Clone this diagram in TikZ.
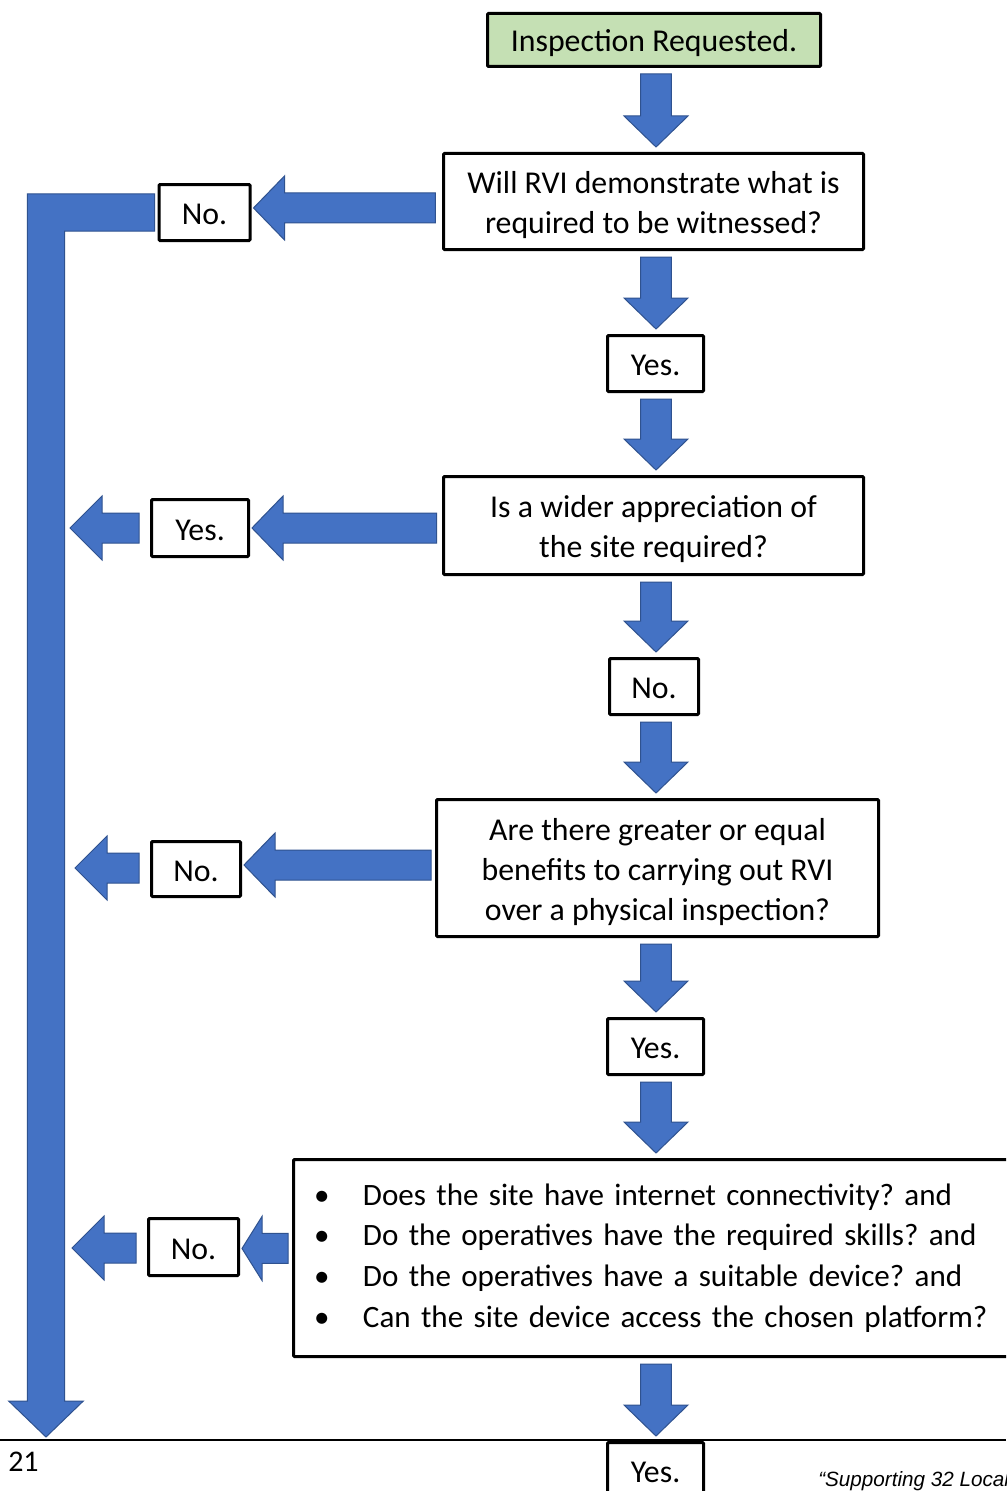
\documentclass[tikz,border=0pt]{standalone}
\usepackage{fontspec}
\setmainfont{Carlito}
\newfontfamily\footfont{Liberation Sans}
\usetikzlibrary{calc}
\definecolor{arrblue}{HTML}{4472C4}
\definecolor{arredge}{HTML}{2F528F}
\definecolor{startgreen}{HTML}{C5E0B4}
\frenchspacing
% box text: centred lines, ink lowered a little without changing the box size
\newcommand\bt[1]{\raisebox{-3pt}[\height][\depth]{\begin{tabular}{@{}c@{}}#1\end{tabular}}}
% down block arrow between two nodes (column x fixed)
\newcommand\darr[2]{%
\filldraw[arr] let \p1=(#1),\p2=(#2) in
 (492pt-11.6pt,\y1-4.5pt) -- (492pt+11.6pt,\y1-4.5pt) -- (492pt+11.6pt,\y2+27pt)
 -- (492pt+24pt,\y2+27pt) -- (492pt,\y2+3.75pt) -- (492pt-24pt,\y2+27pt)
 -- (492pt-11.6pt,\y2+27pt) -- cycle;}
% left block arrow: #1 source anchor, #2 target anchor, #3 source gap, #4 head length, #5 y offset
\newcommand\larr[5]{%
\filldraw[arr] let \p1=(#1),\p2=(#2),\n1={\y2+#5} in
 (\x1-#3,\n1+11.25pt) -- (\x2+1.5pt+#4,\n1+11.25pt) -- (\x2+1.5pt+#4,\n1+24pt)
 -- (\x2+1.5pt,\n1) -- (\x2+1.5pt+#4,\n1-24pt) -- (\x2+1.5pt+#4,\n1-11.25pt)
 -- (\x1-#3,\n1-11.25pt) -- cycle;}
\begin{document}
\begin{tikzpicture}[x=0.75pt,y=-0.75pt,
  arr/.style={fill=arrblue,draw=arredge,line width=0.75pt},
  box/.style={draw=black,line width=2.25pt,fill=white,rounded corners=0.75pt,
    inner sep=0pt,align=center,font=\fontsize{23.85pt}{30pt}\selectfont},
  ]
\clip (0,0) rectangle (1006,1491);
\useasboundingbox (0,0) rectangle (1006,1491);
\fill[white] (0,0) rectangle (1006,1491);

% main column
\node[box,fill=startgreen,minimum width=249.75pt,minimum height=39.75pt] (start) at (654,40) {\bt{Inspection Requested.}};
\node[box,minimum width=315pt,minimum height=72pt] (q1) at (653.5,201.5) {\bt{Will RVI demonstrate what is\\required to be witnessed?}};
\node[box,minimum width=72pt,minimum height=42pt] (yes1) at (655.5,363.5) {\bt{Yes.}};
\node[box,minimum width=315pt,minimum height=73.5pt] (q2) at (653.5,525.5) {\bt{Is a wider appreciation of\\the site required?}};
\node[box,minimum width=66.75pt,minimum height=42pt] (no2) at (654,686.5) {\bt{No.}};
\node[box,minimum width=331.5pt,minimum height=102.75pt] (q3) at (657.5,868) {\bt{Are there greater or equal\\benefits to carrying out RVI\\over a physical inspection?}};
\node[box,minimum width=72pt,minimum height=42pt] (yes3) at (655.5,1046.5) {\bt{Yes.}};
\node[box,minimum width=551.25pt,minimum height=147.75pt,text width=520.5pt,align=left,
  font=\fontsize{23.3pt}{30.5pt}\selectfont] (q4) at (661,1258)
 {\makebox[36.75pt][l]{•}Does the site have internet connectivity? and\\
  \makebox[36.75pt][l]{•}Do the operatives have the required skills? and\\
  \makebox[36.75pt][l]{•}Do the operatives have a suitable device? and\\
  \makebox[36.75pt][l]{•}Can the site device access the chosen platform?};
\node[box,minimum width=72pt,minimum height=42pt] (yes5) at (655.5,1470.5) {\bt{Yes.}};

% side answers
\node[box,minimum width=68.25pt,minimum height=42pt] (no1) at (204.5,212.5) {\bt{No.}};
\node[box,minimum width=72.75pt,minimum height=42.75pt] (yes2) at (200,528) {\bt{Yes.}};
\node[box,minimum width=66.75pt,minimum height=41.25pt] (no3) at (196,869) {\bt{No.}};
\node[box,minimum width=67.5pt,minimum height=42.75pt] (no4) at (193.5,1247) {\bt{No.}};

% free ends
\coordinate (tY2) at (68,528);
\coordinate (tN3) at (73,868);
\coordinate (tN4) at (70,1248);
\coordinate (tL) at (46,1437);

% down arrows
\darr{start.south}{q1.north}
\darr{q1.south}{yes1.north}
\darr{yes1.south}{q2.north}
\darr{q2.south}{no2.north}
\darr{no2.south}{q3.north}
\darr{q3.south}{yes3.north}
\darr{yes3.south}{q4.north}
\darr{q4.south}{yes5.north}

% left arrows
\larr{q1.west}{no1.east}{5pt}{23.25pt}{3.4pt}
\larr{q2.west}{yes2.east}{4pt}{23.25pt}{0pt}
\larr{q3.west}{no3.east}{3pt}{23.25pt}{3pt}
\larr{q4.west}{no4.east}{3pt}{15pt}{-1.1pt}
\larr{yes2.west}{tY2}{8.25pt}{24pt}{0pt}
\larr{no3.west}{tN3}{8.25pt}{24pt}{0pt}
\larr{no4.west}{tN4}{8.25pt}{24pt}{0pt}

% long bent arrow
\filldraw[arr] let \p1=(no1.west),\p2=(tL) in
 (\x1-2.25pt,\y1+14pt) -- (\x2-14pt,\y1+14pt) -- (\x2-14pt,\y2+27pt)
 -- (\x2-28pt,\y2+27pt) -- (\x2,\y2) -- (\x2+28pt,\y2+27pt)
 -- (\x2+14pt,\y2+27pt) -- (\x2+14pt,\y1-14pt) -- (\x1-2.25pt,\y1-14pt) -- cycle;

% page footer
\coordinate (rl) at (0,1440);
\coordinate (rr) at (1006,1440);
\draw[line width=1.5pt] (rl) -- (rr);
\node[anchor=base west,inner sep=0pt,font=\fontsize{22.5pt}{26pt}\selectfont] (pnum) at (8,1471) {21};
\node[anchor=base west,inner sep=0pt,font=\footfont\itshape\fontsize{15.5pt}{18pt}\selectfont] (foot) at (818,1486) {“Supporting 32 Local};
\end{tikzpicture}
\end{document}
